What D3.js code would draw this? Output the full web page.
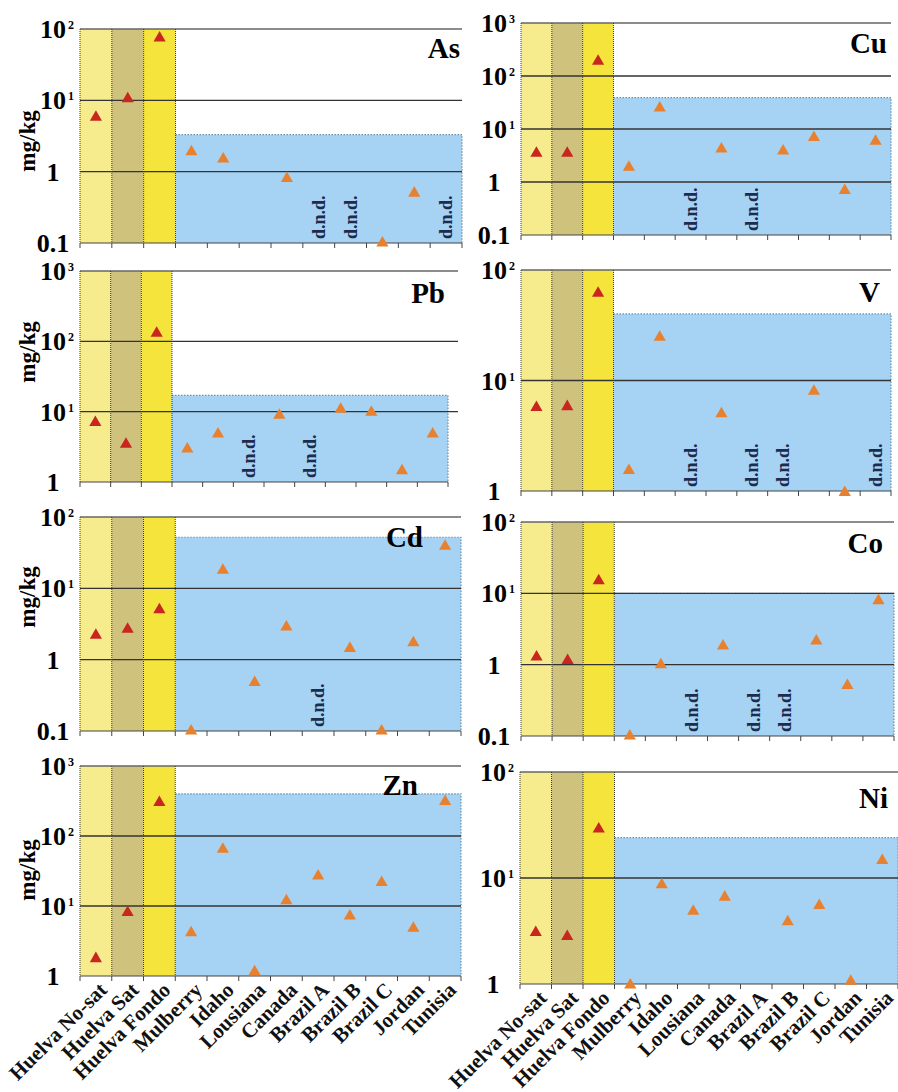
<!DOCTYPE html>
<meta charset="utf-8">
<body style="margin:0;background:#fff">
<script src="https://d3js.org/d3.v7.min.js"></script>
<script>

var categories = ["Huelva No-sat", "Huelva Sat", "Huelva Fondo", "Mulberry", "Idaho",
                  "Lousiana", "Canada", "Brazil A", "Brazil B", "Brazil C", "Jordan", "Tunisia"];
var elements = ["As", "Cu", "Pb", "V", "Cd", "Co", "Zn", "Ni"];

// "dnd" = drawn as d.n.d., null = nothing shown
var asValues = [5.8, 10.5, 75, 1.9, 1.5, null, 0.8, "dnd", "dnd", 0.1, 0.5, "dnd"];
var cuValues = [3.5, 3.5, 190, 1.9, 25, "dnd", 4.2, "dnd", 3.85, 6.9, 0.69, 5.9];
var pbValues = [7.0, 3.45, 130, 2.95, 4.8, "dnd", 8.9, "dnd", 10.8, 9.8, 1.45, 4.8];
var vValues  = [5.7, 5.8, 61.5, 1.53, 24.6, "dnd", 5.0, "dnd", "dnd", 8.0, 0.97, "dnd"];
var cdValues = [2.2, 2.66, 5.0, 0.1, 17.9, 0.48, 2.87, "dnd", 1.44, 0.1, 1.73, 39];
var coValues = [1.28, 1.14, 15, 0.1, 1.0, "dnd", 1.82, "dnd", "dnd", 2.14, 0.51, 7.9];
var znValues = [1.77, 8.1, 300, 4.16, 64.6, 1.15, 11.9, 26.8, 7.2, 21.6, 4.8, 310];
var niValues = [3.06, 2.8, 29, 0.98, 8.65, 4.86, 6.6, null, 3.86, 5.5, 1.06, 14.6];

var allValues = [asValues, cuValues, pbValues, vValues, cdValues, coValues, znValues, niValues];
var yDomains = [[0.1, 100], [0.1, 1000], [1, 1000], [1, 100],
                [0.1, 100], [0.1, 100], [1, 1000], [1, 100]];
var blueLimits = [3.3, 39, 17, 40, 52, 10, 400, 24];

// panel placement on the page
var layout = [
  {x: 80,  y: 29,  w: 382, h: 214, lx: 460, ly: 58,  uy: 141},
  {x: 521, y: 23,  w: 370, h: 212, lx: 887, ly: 53},
  {x: 80,  y: 271, w: 368, h: 211, lx: 445, ly: 303, uy: 352, extra: 10},
  {x: 521, y: 270, w: 370, h: 221, lx: 880, ly: 302},
  {x: 80,  y: 517, w: 381, h: 214, lx: 423, ly: 547, uy: 597},
  {x: 521, y: 522, w: 373, h: 214, lx: 883, ly: 553},
  {x: 80,  y: 766, w: 381, h: 210, lx: 418, ly: 795, uy: 870, labels: true},
  {x: 520, y: 772, w: 378, h: 212, lx: 888, ly: 808, labels: true}
];

var bandColors = ["#f6ec8e", "#cfc27c", "#f5e43c"];
var blueColor = "#a6d3f3";
var serif = "'Liberation Serif', 'Times New Roman', serif";

var svg = d3.select("body").append("svg")
    .attr("width", 898)
    .attr("height", 1092)
    .style("font-family", serif);

elements.forEach(function(el, p) {
  var L = layout[p];
  var values = allValues[p];
  var dom = yDomains[p];

  var x = d3.scaleBand().domain(categories).range([L.x, L.x + L.w]);
  var y = d3.scaleLog().domain(dom).range([L.y + L.h, L.y]);
  var g = svg.append("g");
  var bottom = y(dom[0]), top = y(dom[1]);

  // yellow bands for the Huelva samples
  g.selectAll("rect.band")
    .data(categories.slice(0, 3))
    .enter().append("rect")
    .attr("x", function(d) { return x(d); })
    .attr("y", top)
    .attr("width", x.bandwidth())
    .attr("height", bottom - top)
    .attr("fill", function(d, i) { return bandColors[i]; });

  // blue range of the literature data
  var bx = x(categories[3]), bt = y(blueLimits[p]);
  g.append("rect")
    .attr("x", bx).attr("y", bt)
    .attr("width", L.x + L.w - bx).attr("height", bottom - bt)
    .attr("fill", blueColor);
  g.append("path")
    .attr("d", "M" + bx + "," + bt + "H" + (L.x + L.w) + "V" + bottom)
    .attr("fill", "none")
    .attr("stroke", "#6f8fa8")
    .attr("stroke-width", 1.2)
    .attr("stroke-dasharray", "1.5,1.5");

  // decade lines
  var decades = [];
  for (var e = Math.round(Math.log10(dom[0])); e <= Math.round(Math.log10(dom[1])); e++) decades.push(Math.pow(10, e));

  g.selectAll("line.grid")
    .data(decades.slice(1))
    .enter().append("line")
    .attr("x1", L.x).attr("x2", L.x + L.w + (L.extra || 0))
    .attr("y1", function(d) { return y(d); })
    .attr("y2", function(d) { return y(d); })
    .attr("stroke", function(d, i) { return i == decades.length - 2 ? "#666" : "#333"; })
    .attr("stroke-width", 1.4);

  // dotted separators
  g.selectAll("line.sep")
    .data(categories.slice(0, 4))
    .enter().append("line")
    .attr("x1", function(d) { return x(d); })
    .attr("x2", function(d) { return x(d); })
    .attr("y1", top).attr("y2", bottom)
    .attr("stroke", "#3a3a2a")
    .attr("stroke-width", 1)
    .attr("stroke-dasharray", "1,1");

  // bottom axis with ticks at band edges
  g.append("line")
    .attr("x1", L.x).attr("x2", L.x + L.w)
    .attr("y1", bottom).attr("y2", bottom)
    .attr("stroke", "#444").attr("stroke-width", 1.2);
  var edges = categories.map(function(c) { return x(c); }).concat([L.x + L.w]);
  g.selectAll("line.tick")
    .data(edges)
    .enter().append("line")
    .attr("x1", function(d) { return d; })
    .attr("x2", function(d) { return d; })
    .attr("y1", bottom).attr("y2", bottom + 5)
    .attr("stroke", "#444").attr("stroke-width", 1);

  // y labels
  var tl = g.selectAll("g.ylab")
    .data(decades)
    .enter().append("g")
    .attr("transform", function(d) { return "translate(" + (L.x - 27) + "," + (y(d) + 9) + ")"; });
  tl.append("text")
    .attr("text-anchor", "middle")
    .attr("font-size", 26)
    .attr("font-weight", "bold")
    .text(function(d) { return d < 2 ? (d < 1 ? "0.1" : "1") : "10"; });
  tl.filter(function(d) { return d > 2; })
    .append("text")
    .attr("x", 15).attr("y", -9)
    .attr("font-size", 12)
    .attr("font-weight", "bold")
    .text(function(d) { return Math.round(Math.log10(d)); });

  if (L.uy) {
    g.append("text")
      .attr("transform", "translate(" + 35 + "," + L.uy + ") rotate(-90)")
      .attr("text-anchor", "middle")
      .attr("font-size", 23)
      .attr("font-weight", "bold")
      .text("mg/kg");
  }

  // element name
  g.append("text")
    .attr("x", L.lx).attr("y", L.ly)
    .attr("text-anchor", "end")
    .attr("font-size", 29)
    .attr("font-weight", "bold")
    .text(el);

  // triangles
  var pts = values.map(function(v, i) { return {c: categories[i], v: v, i: i}; });
  g.selectAll("path.pt")
    .data(pts.filter(function(d) { return typeof d.v == "number"; }))
    .enter().append("path")
    .attr("d", d3.symbol().type(d3.symbolTriangle).size(64))
    .attr("transform", function(d) {
      return "translate(" + (x(d.c) + x.bandwidth() / 2) + "," + y(d.v) + ")";
    })
    .attr("fill", function(d) { return d.i < 3 ? "#c8261f" : "#e8812f"; });

  // not detected
  g.selectAll("text.dnd")
    .data(pts.filter(function(d) { return d.v == "dnd"; }))
    .enter().append("text")
    .attr("transform", function(d) {
      return "translate(" + (x(d.c) + x.bandwidth() / 2 + 6) + "," + (bottom - 4) + ") rotate(-90)";
    })
    .attr("font-size", 18)
    .attr("font-weight", "bold")
    .attr("fill", "#1c2b4e")
    .text("d.n.d.");

  if (L.labels) {
    g.selectAll("text.cat")
      .data(categories)
      .enter().append("text")
      .attr("transform", function(d) {
        return "translate(" + (x(d) + x.bandwidth() / 2 + 7) + "," + (bottom + 10) + ") rotate(-45)";
      })
      .attr("text-anchor", "end")
      .attr("dy", "0.35em")
      .attr("font-size", 21)
      .attr("font-weight", "bold")
      .attr("fill", "#111")
      .text(function(d) { return d; });
  }
});

</script>
</body>
